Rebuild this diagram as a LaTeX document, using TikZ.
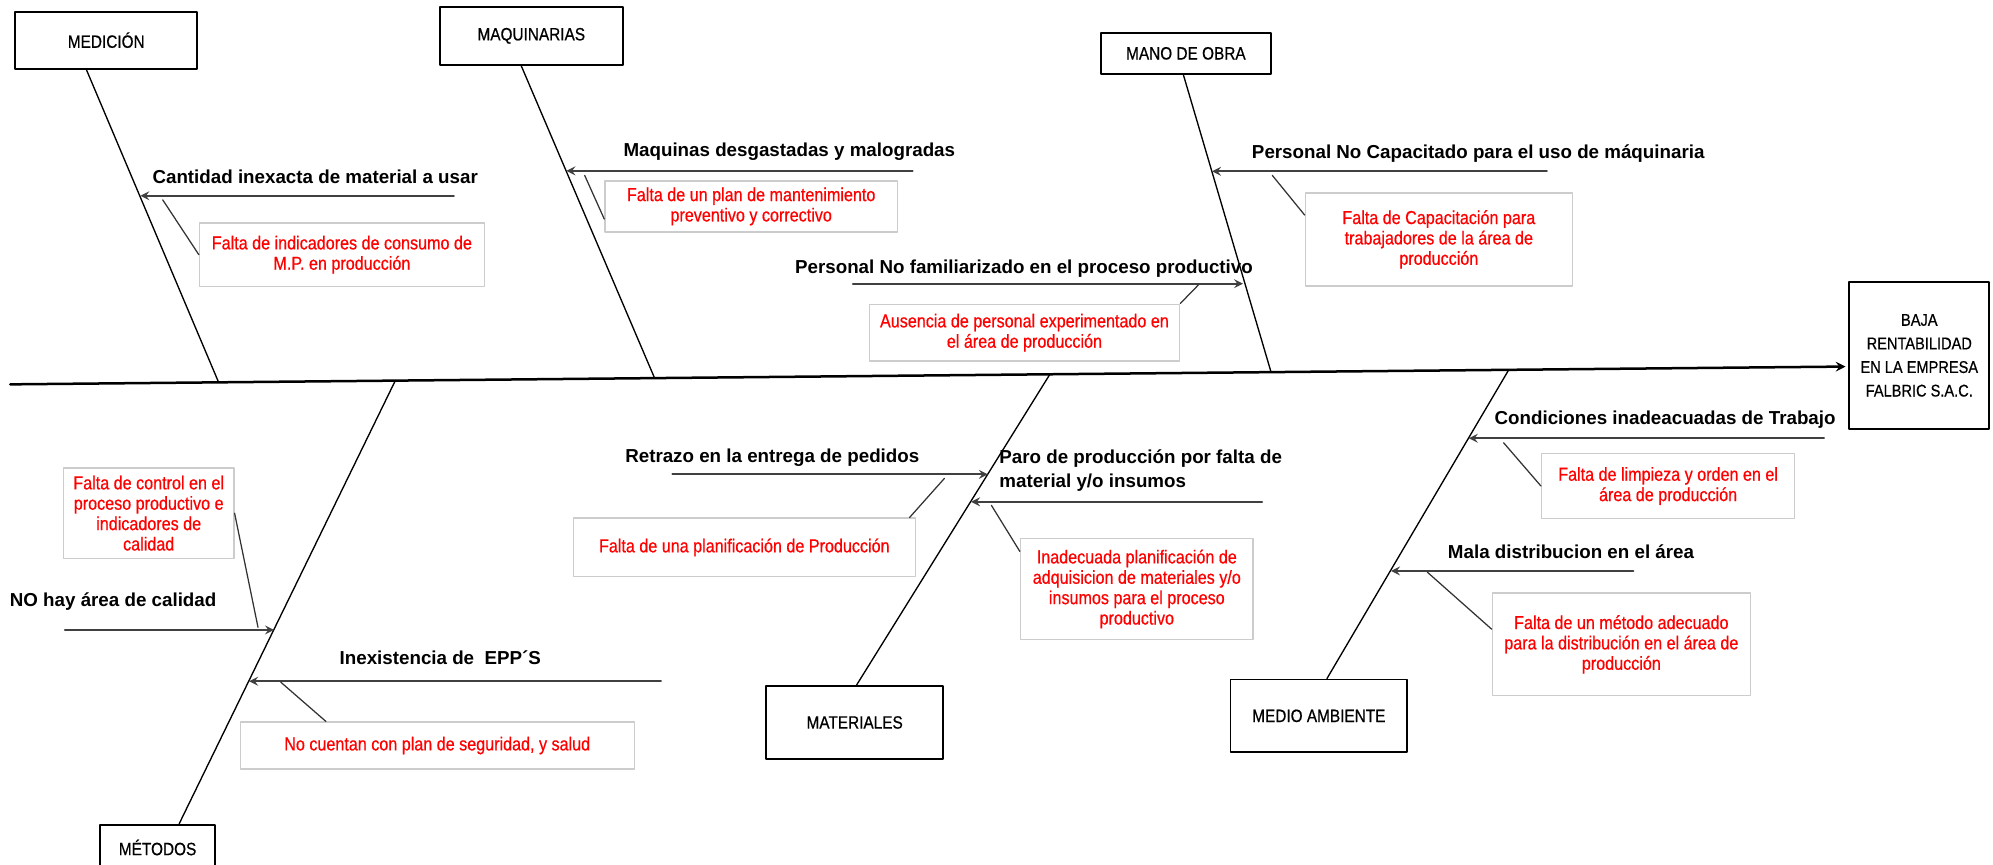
\documentclass[tikz,border=0pt]{standalone}
\usepackage{fontspec}
\setmainfont{Liberation Sans}
\newfontfamily\narrowfont{Liberation Sans}[FakeStretch=0.86,FakeBold=0.6]
\usetikzlibrary{arrows,calc}
\tikzset{
catbox/.style={draw,line width=1.1pt,align=center,inner sep=0pt,font=\narrowfont\fontsize{10}{13.2}\selectfont},
causebox/.style={draw=gray!40,line width=0.8pt,text=red,align=center,inner sep=0pt,font=\narrowfont\fontsize{10.5}{11.4}\selectfont},
cause/.style={inner sep=0pt,font=\bfseries\fontsize{10.5}{13.9}\selectfont},
bone/.style={line width=0.75pt},
subbone/.style={->,line width=1.2pt,draw=black!75},
link/.style={line width=0.7pt,draw=black!80}
}

\begin{document}
\begin{tikzpicture}[line join=round, line cap=round,>=stealth]
\useasboundingbox (0,0) rectangle (39.2,17);
% categorias y efecto
\node[catbox,minimum width=3.575cm,minimum height=1.125cm] (medicion) at (2.09,16.21) {MEDICIÓN};
\node[catbox,minimum width=3.6cm,minimum height=1.13cm] (maquinarias) at (10.45,16.295) {MAQUINARIAS};
\node[catbox,minimum width=3.35cm,minimum height=0.8cm] (manoobra) at (23.325,15.95) {MANO DE OBRA};
\node[catbox,minimum width=2.25cm,minimum height=0.9cm] (metodos) at (3.1,0.33) {MÉTODOS};
\node[catbox,minimum width=3.475cm,minimum height=1.44cm] (materiales) at (16.81,2.79) {MATERIALES};
\node[catbox,minimum width=3.475cm,minimum height=1.43cm] (medio) at (25.94,2.92) {MEDIO AMBIENTE};
\node[catbox,minimum width=2.75cm,minimum height=2.905cm,font=\narrowfont\fontsize{9.5}{13.2}\selectfont] (efecto) at (37.75,10.01) {BAJA\\RENTABILIDAD\\EN LA EMPRESA\\FALBRIC S.A.C.};
% espina
\coordinate (S0) at (0.2,9.44);
\coordinate (S1) at (36.3,9.79);
\draw[->,line width=1.4pt] (S0)--(S1);
\coordinate (m1) at (4.3,9.48);
\coordinate (m2) at (12.875,9.563);
\coordinate (m3) at (25.0,9.68);
\coordinate (m4) at (7.775,9.513);
\coordinate (m5) at (20.65,9.638);
\coordinate (m6) at (29.675,9.726);
\draw[bone] ([xshift=-0.39cm]medicion.south)--(m1);
\draw[bone] ([xshift=-0.2cm]maquinarias.south)--(m2);
\draw[bone] ([xshift=-0.05cm]manoobra.south)--(m3);
\draw[bone] ([xshift=0.425cm]metodos.north)--(m4);
\draw[bone] ([xshift=0.04cm]materiales.north)--(m5);
\draw[bone] ([xshift=0.16cm]medio.north)--(m6);
% causas
\node[cause] (c1) at (6.2,13.53) {Cantidad inexacta de material a usar};
\node[cause] (c2) at (15.525,14.02) {Maquinas desgastadas y malogradas};
\node[cause] (c3) at (29.075,13.985) {Personal No Capacitado para el uso de máquinaria};
\node[cause] (c4) at (20.14,11.71) {Personal No familiarizado en el proceso productivo};
\node[cause] (c5) at (32.75,8.7375) {Condiciones inadeacuadas de Trabajo};
\node[cause] (c6) at (30.9,6.1575) {Mala distribucion en el área};
\node[cause] (c7) at (15.19,7.99) {Retrazo en la entrega de pedidos};
\node[cause,anchor=west,align=left] (c8) at (19.65,7.745) {Paro de producción por falta de\\material y/o insumos};
\node[cause] (c9) at (2.225,5.16) {NO hay área de calidad};
\node[cause] (c10) at (8.66,4.055) {Inexistencia de\ \ EPP´S};
\coordinate (a1) at (8.925,13.15); \coordinate (t1) at (2.76,13.15);
\coordinate (a2) at (17.95,13.64); \coordinate (t2) at (11.14,13.64);
\coordinate (a3) at (30.425,13.63); \coordinate (t3) at (23.84,13.63);
\coordinate (a4) at (16.775,11.42); \coordinate (t4) at (24.45,11.42);
\coordinate (a5) at (35.875,8.38); \coordinate (t5) at (28.89,8.38);
\coordinate (a6) at (32.125,5.77); \coordinate (t6) at (27.36,5.77);
\coordinate (a7) at (13.225,7.67); \coordinate (t7) at (19.43,7.67);
\coordinate (a8) at (24.825,7.13); \coordinate (t8) at (19.1,7.13);
\coordinate (a9) at (1.275,4.61); \coordinate (t9) at (5.39,4.61);
\coordinate (a10) at (13.0,3.6); \coordinate (t10) at (4.9,3.6);
\foreach \i in {1,...,10}{\draw[subbone] (a\i)--(t\i);}
% causas raiz
\node[causebox,minimum width=5.6cm,minimum height=1.24cm] (r1) at (6.725,11.99) {Falta de indicadores de consumo de\\M.P. en producción};
\node[causebox,minimum width=5.75cm,minimum height=1.0cm] (r2) at (14.775,12.94) {Falta de un plan de mantenimiento\\preventivo y correctivo};
\node[causebox,minimum width=5.25cm,minimum height=1.83cm] (r3) at (28.3,12.29) {Falta de Capacitación para\\trabajadores de la área de\\producción};
\node[causebox,minimum width=6.1cm,minimum height=1.12cm] (r4) at (20.15,10.456) {Ausencia de personal experimentado en\\el área de producción};
\node[causebox,minimum width=4.975cm,minimum height=1.27cm] (r5) at (32.81,7.44) {Falta de limpieza y orden en el\\área de producción};
\node[causebox,minimum width=5.075cm,minimum height=2.015cm] (r6) at (31.89,4.325) {Falta de un método adecuado\\para la distribución en el área de\\producción};
\node[causebox,minimum width=6.725cm,minimum height=1.15cm] (r7) at (14.64,6.234) {Falta de una planificación de Producción};
\node[causebox,minimum width=4.575cm,minimum height=1.985cm] (r8) at (22.36,5.415) {Inadecuada planificación de\\adquisicion de materiales y/o\\insumos para el proceso\\productivo};
\node[causebox,minimum width=3.35cm,minimum height=1.78cm] (r9) at (2.925,6.906) {Falta de control en el\\proceso productivo e\\indicadores de\\calidad};
\node[causebox,minimum width=7.75cm,minimum height=0.92cm] (r10) at (8.6,2.336) {No cuentan con plan de seguridad, y salud};
\coordinate (k1) at (3.2,13.07);
\coordinate (k2) at (11.5,13.55);
\coordinate (k3) at (25.025,13.55);
\coordinate (k4) at (23.575,11.4);
\coordinate (k5) at (29.575,8.29);
\coordinate (k6) at (28.075,5.745);
\coordinate (k7) at (18.575,7.59);
\coordinate (k8) at (19.5,7.06);
\coordinate (k9) at (5.075,4.66);
\coordinate (k10) at (5.525,3.58);
\draw[link] (k1)--(r1.west);
\draw[link] (k2)--([yshift=-0.25cm]r2.west);
\draw[link] (k3)--([yshift=0.48cm]r3.west);
\draw[link] (k4)--(r4.north east);
\draw[link] (k5)--(r5.west);
\draw[link] (k6)--([yshift=0.3cm]r6.west);
\draw[link] (k7)--([xshift=-0.125cm]r7.north east);
\draw[link] (k8)--([yshift=0.74cm]r8.west);
\draw[link] (r9.east)--(k9);
\draw[link] (k10)--([xshift=1.7cm]r10.north west);
\end{tikzpicture}
\end{document}
